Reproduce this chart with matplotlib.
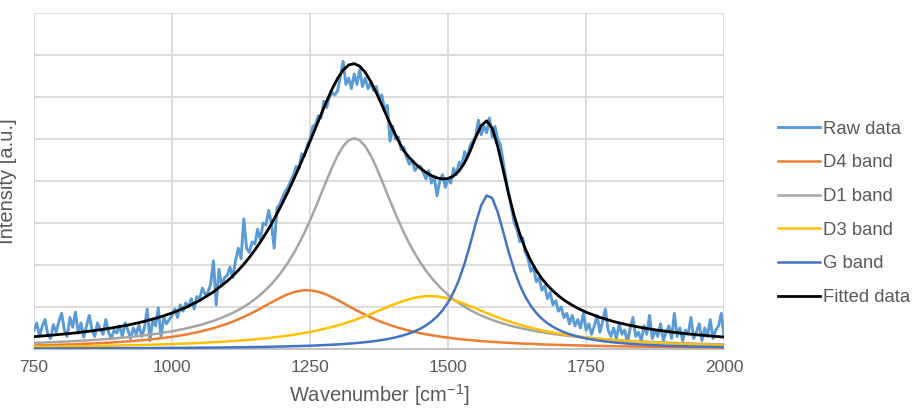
import numpy as np
import matplotlib.pyplot as plt

plt.rcParams['font.family'] = ['Liberation Sans', 'DejaVu Sans']
plt.rcParams['mathtext.fontset'] = 'custom'
plt.rcParams['mathtext.rm'] = 'Liberation Sans'

# raw spectrum, sampled every 5 cm-1 from 750 to 2000
raw_x = np.arange(750, 2001, 5)
raw_y = [
    0.45, 0.62, 0.30, 0.55, 0.70, 0.35, 0.25, 0.58, 0.40, 0.66,
    0.85, 0.45, 0.30, 0.75, 0.52, 0.88, 0.38, 0.62, 0.28, 0.55,
    0.80, 0.45, 0.30, 0.62, 0.48, 0.35, 0.70, 0.40, 0.25, 0.45,
    0.38, 0.55, 0.30, 0.62, 0.45, 0.25, 0.50, 0.35, 0.58, 0.30,
    0.50, 0.95, 0.20, 0.70, 0.55, 0.98, 0.30, 0.75, 0.60, 0.70,
    0.80, 0.95, 0.75, 1.05, 0.90, 1.10, 1.00, 1.20, 0.95, 1.25,
    1.20, 1.45, 1.30, 1.35, 1.55, 2.10, 1.05, 1.90, 1.50, 1.70,
    1.75, 1.95, 1.70, 2.10, 2.40, 2.15, 3.10, 2.40, 2.30, 2.55,
    2.50, 2.85, 2.60, 3.00, 2.95, 3.30, 3.00, 2.40, 3.35, 3.45,
    3.60, 3.75, 3.85, 4.00, 4.15, 4.35, 4.30, 4.65, 4.60, 4.85,
    5.00, 5.30, 5.35, 5.55, 5.50, 5.90, 5.75, 6.00, 6.10, 6.05,
    6.15, 6.50, 6.85, 6.30, 6.45, 6.20, 6.55, 6.30, 6.65, 6.25,
    6.45, 6.20, 6.35, 6.15, 6.25, 5.95, 6.05, 5.70, 5.80, 4.95,
    5.30, 5.00, 5.05, 4.75, 4.80, 4.55, 4.40, 4.50, 4.25, 4.35,
    4.35, 4.20, 4.05, 4.25, 3.95, 4.10, 3.65, 4.00, 4.15, 3.85,
    4.05, 3.95, 4.30, 4.15, 4.45, 4.35, 4.70, 4.55, 4.85, 4.95,
    5.05, 5.45, 5.10, 5.30, 5.15, 5.50, 5.05, 5.30, 5.00, 4.85,
    4.45, 4.05, 3.70, 3.35, 3.00, 2.85, 2.55, 2.65, 2.30, 2.15,
    1.85, 1.95, 1.60, 1.70, 1.40, 1.50, 1.20, 1.35, 1.05, 1.15,
    0.90, 1.00, 0.75, 0.85, 0.60, 0.80, 0.55, 0.70, 0.50, 0.85,
    0.45, 0.60, 0.35, 0.55, 0.80, 0.40, 0.65, 0.95, 0.45, 0.30,
    0.50, 0.25, 0.60, 0.35, 0.45, 0.15, 0.50, 0.75, 0.30, 0.40,
    0.20, 0.55, 0.35, 0.80, 0.25, 0.45, 0.30, 0.60, 0.20, 0.40,
    0.55, 0.25, 0.85, 0.30, 0.50, 0.20, 0.45, 0.35, 0.75, 0.25,
    0.40, 0.60, 0.20, 0.50, 0.30, 0.70, 0.25, 0.45, 0.55, 0.85,
    0.30,
]

# fitted components: 25 cm-1 steps in the tails, 10 cm-1 steps around the peaks
fit_x = np.concatenate([np.arange(750, 1100, 25), np.arange(1100, 1750, 10), np.arange(1750, 2001, 25)])

d4_band = [
    0.084, 0.093, 0.103, 0.114, 0.128, 0.144, 0.163, 0.186, 0.214, 0.249, 0.291, 0.344, 0.411, 0.495,
    0.602, 0.651, 0.706, 0.764, 0.827, 0.894, 0.964, 1.037, 1.109, 1.180, 1.246, 1.304, 1.350, 1.383,
    1.399, 1.397, 1.377, 1.342, 1.293, 1.233, 1.166, 1.095, 1.022, 0.950, 0.881, 0.814, 0.752, 0.694,
    0.641, 0.592, 0.547, 0.507, 0.469, 0.436, 0.405, 0.377, 0.351, 0.328, 0.307, 0.287, 0.270, 0.253,
    0.238, 0.225, 0.212, 0.200, 0.189, 0.179, 0.170, 0.162, 0.154, 0.146, 0.139, 0.133, 0.127, 0.121,
    0.116, 0.111, 0.106, 0.102, 0.098, 0.094, 0.090, 0.087, 0.084,
    0.081, 0.074, 0.067, 0.062, 0.057, 0.053, 0.049, 0.046, 0.043, 0.040, 0.037,
]
d1_band = [
    0.145, 0.158, 0.173, 0.189, 0.209, 0.231, 0.258, 0.288, 0.325, 0.369, 0.422, 0.487, 0.568, 0.669,
    0.798, 0.860, 0.928, 1.004, 1.089, 1.184, 1.290, 1.410, 1.545, 1.696, 1.866, 2.057, 2.271, 2.510,
    2.773, 3.061, 3.369, 3.691, 4.016, 4.328, 4.606, 4.827, 4.970, 5.020, 4.970, 4.827, 4.606, 4.328,
    4.016, 3.691, 3.369, 3.061, 2.773, 2.510, 2.271, 2.057, 1.866, 1.696, 1.545, 1.410, 1.290, 1.184,
    1.089, 1.004, 0.928, 0.860, 0.798, 0.743, 0.692, 0.647, 0.606, 0.568, 0.533, 0.502, 0.473, 0.447,
    0.422, 0.400, 0.379, 0.360, 0.342, 0.325, 0.310, 0.295, 0.282,
    0.269, 0.241, 0.217, 0.197, 0.179, 0.164, 0.150, 0.138, 0.127, 0.118, 0.109,
]
d3_band = [
    0.053, 0.057, 0.061, 0.065, 0.070, 0.076, 0.082, 0.090, 0.098, 0.107, 0.118, 0.130, 0.144, 0.161,
    0.180, 0.189, 0.198, 0.208, 0.219, 0.231, 0.243, 0.256, 0.270, 0.286, 0.302, 0.320, 0.339, 0.360,
    0.383, 0.407, 0.434, 0.462, 0.493, 0.527, 0.563, 0.601, 0.643, 0.687, 0.734, 0.783, 0.835, 0.888,
    0.943, 0.997, 1.050, 1.101, 1.147, 1.188, 1.220, 1.244, 1.257, 1.259, 1.251, 1.231, 1.202, 1.164,
    1.120, 1.071, 1.019, 0.965, 0.910, 0.856, 0.804, 0.753, 0.705, 0.660, 0.618, 0.578, 0.541, 0.506,
    0.474, 0.445, 0.418, 0.393, 0.369, 0.348, 0.328, 0.309, 0.292,
    0.276, 0.242, 0.213, 0.188, 0.168, 0.150, 0.135, 0.122, 0.111, 0.101, 0.092,
]
g_band = [
    0.012, 0.013, 0.014, 0.015, 0.016, 0.017, 0.019, 0.020, 0.022, 0.024, 0.026, 0.028, 0.031, 0.034,
    0.037, 0.039, 0.041, 0.043, 0.045, 0.047, 0.049, 0.051, 0.054, 0.057, 0.060, 0.063, 0.067, 0.071,
    0.075, 0.079, 0.084, 0.090, 0.096, 0.103, 0.110, 0.118, 0.128, 0.138, 0.149, 0.163, 0.177, 0.194,
    0.214, 0.236, 0.262, 0.293, 0.329, 0.372, 0.423, 0.485, 0.561, 0.655, 0.772, 0.920, 1.108, 1.348,
    1.654, 2.036, 2.492, 2.985, 3.419, 3.656, 3.594, 3.261, 2.788, 2.302, 1.874, 1.523, 1.245, 1.027,
    0.857, 0.722, 0.615, 0.529, 0.459, 0.401, 0.354, 0.314, 0.280,
    0.251, 0.196, 0.157, 0.129, 0.107, 0.090, 0.077, 0.067, 0.059, 0.052, 0.046,
]
fitted = [
    0.294, 0.321, 0.351, 0.383, 0.423, 0.468, 0.522, 0.584, 0.659, 0.749, 0.857, 0.989, 1.154, 1.359,
    1.617, 1.739, 1.873, 2.019, 2.180, 2.356, 2.546, 2.754, 2.978, 3.219, 3.474, 3.744, 4.027, 4.324,
    4.630, 4.944, 5.264, 5.585, 5.898, 6.191, 6.445, 6.641, 6.763, 6.795, 6.734, 6.587, 6.370, 6.104,
    5.814, 5.516, 5.228, 4.962, 4.718, 4.556, 4.419, 4.303, 4.205, 4.128, 4.075, 4.048, 4.060, 4.119,
    4.241, 4.436, 4.711, 5.040, 5.316, 5.434, 5.260, 4.823, 4.253, 3.676, 3.164, 2.736, 2.386, 2.101,
    1.869, 1.678, 1.518, 1.384, 1.268, 1.168, 1.082, 1.005, 0.938,
    0.877, 0.753, 0.654, 0.576, 0.511, 0.457, 0.411, 0.373, 0.340, 0.311, 0.284,
]

x_ticks = [750, 1000, 1250, 1500, 1750, 2000]

fig = plt.figure(figsize=(9.15, 4.12), dpi=100)
ax = fig.add_axes([0.0372, 0.1529, 0.7541, 0.8155])

ax.plot(raw_x, raw_y, color="#5B9BD5", lw=2.1, label="Raw data", zorder=2)
ax.plot(fit_x, d4_band, color="#ED7D31", lw=1.8, label="D4 band", zorder=3)
ax.plot(fit_x, d1_band, color="#A5A5A5", lw=1.8, label="D1 band", zorder=3)
ax.plot(fit_x, d3_band, color="#FFC000", lw=1.8, label="D3 band", zorder=3)
ax.plot(fit_x, g_band, color="#4472C4", lw=1.8, label="G band", zorder=3)
ax.plot(fit_x, fitted, color="black", lw=2.0, label="Fitted data", zorder=4)

ax.set_xlim(750, 2000)
ax.set_ylim(0, 8)
ax.set_xticks(x_ticks)
ax.set_yticks(range(0, 9))
ax.set_yticklabels([])
ax.tick_params(axis="both", length=0, labelsize=12.5, colors="#595959", pad=8)
ax.grid(True, color="#D9D9D9", lw=1.3)
ax.set_axisbelow(True)
for side in ["left", "right", "top"]:
    ax.spines[side].set_visible(False)
ax.spines["bottom"].set_color("#BFBFBF")
ax.spines["bottom"].set_linewidth(1.3)

ax.set_xlabel("Wavenumber [cm$^{-1}$]", fontsize=14.5, color="#595959", labelpad=5)
ax.set_ylabel("Intensity [a.u.]", fontsize=14.5, color="#595959", labelpad=4)

fig.legend(loc="center left", bbox_to_anchor=(0.850, 0.482), frameon=False,
           fontsize=13.3, labelcolor="#595959", handlelength=2.3, handletextpad=0.16,
           labelspacing=0.9, borderpad=0, borderaxespad=0)

fig.savefig("out.png", dpi=100)
